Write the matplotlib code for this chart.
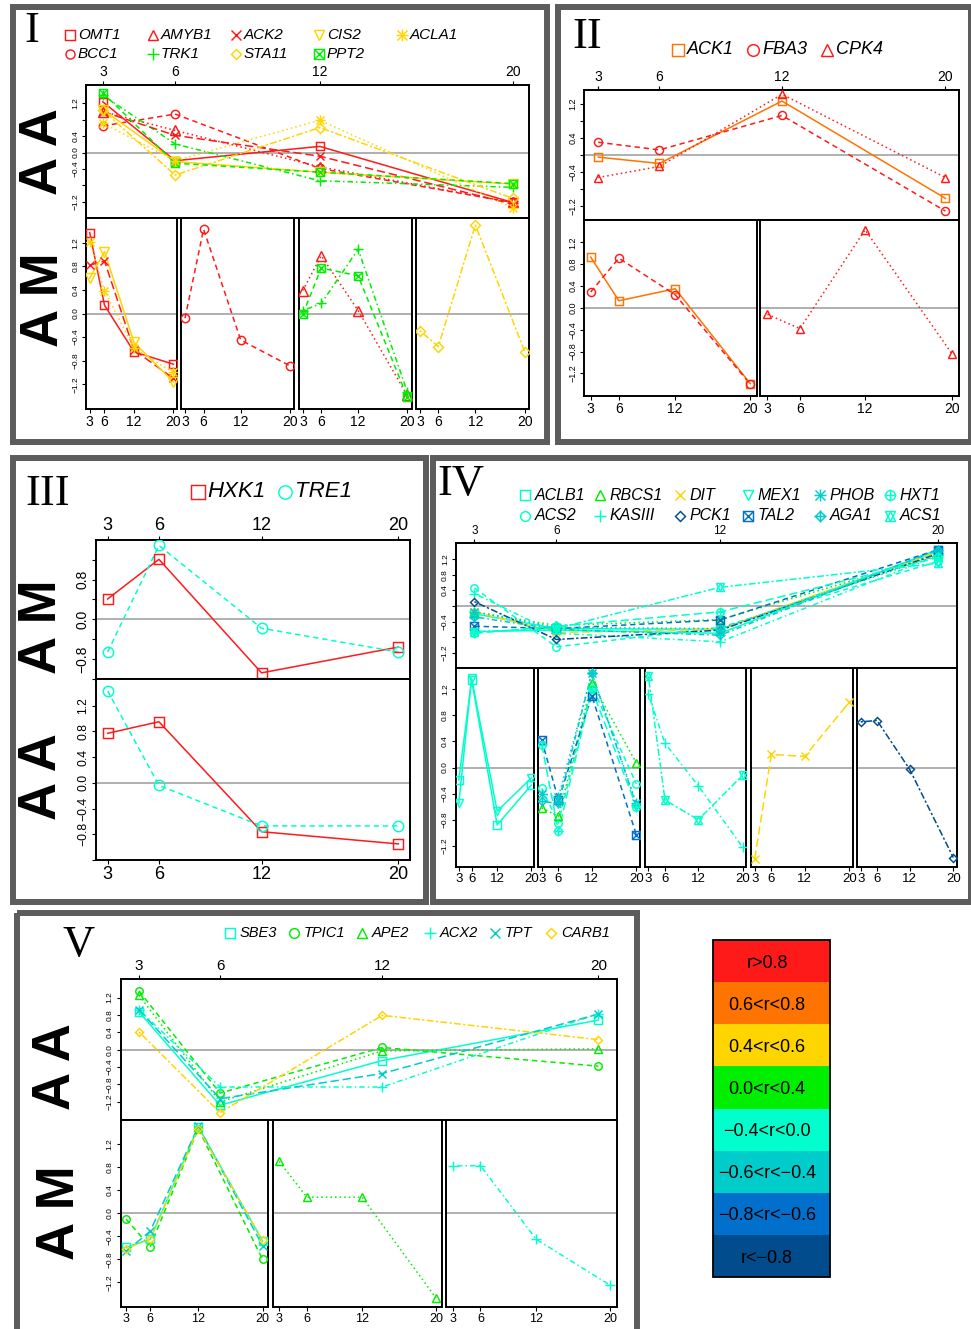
import matplotlib
matplotlib.use('Agg')
import matplotlib.pyplot as plt
from matplotlib.patches import Rectangle

plt.rcParams['font.family'] = ['Liberation Sans', 'DejaVu Sans']

# ---- data -------------------------------------------------------------
TIMES = [3, 6, 12, 20]
TIME_LABELS = ['3', '6', '12', '20']

CLASS_LABELS = ['r>0.8', '0.6<r<0.8', '0.4<r<0.6', '0.0<r<0.4',
                '\u22120.4<r<0.0', '\u22120.6<r<\u22120.4', '\u22120.8<r<\u22120.6', 'r<\u22120.8']
CLASS_COLORS = ['#ff1a1a', '#ff7300', '#ffd500', '#00ee00',
                '#00ffcc', '#00cccc', '#0070cc', '#004c8c']

# panel I
P1_GENES = ['OMT1', 'BCC1', 'AMYB1', 'TRK1', 'ACK2', 'STA11', 'CIS2', 'PPT2', 'ACLA1']
P1_CLASS = [0, 0, 0, 3, 0, 2, 2, 3, 2]
P1_AA = [[1.24, -0.20, 0.15, -1.22],
         [0.65, 0.94, -0.39, -1.22],
         [1.00, 0.54, -0.35, -1.22],
         [1.40, 0.21, -0.69, -0.85],
         [1.00, 0.42, -0.09, -1.26],
         [1.03, -0.55, 0.61, -1.12],
         [1.05, -0.22, -0.48, -0.77],
         [1.46, -0.26, -0.48, -0.76],
         [0.72, -0.20, 0.79, -1.35]]
P1_AM = [[1.37, 0.14, -0.65, -0.86],
         [-0.08, 1.43, -0.45, -0.89],
         [0.39, 0.98, 0.05, -1.39],
         [0.05, 0.17, 1.09, -1.33],
         [0.82, 0.89, -0.62, -1.10],
         [-0.29, -0.56, 1.50, -0.65],
         [0.60, 1.05, -0.49, -1.16],
         [-0.01, 0.77, 0.64, -1.42],
         [1.22, 0.39, -0.59, -1.00]]
P1_SUB = [0, 1, 2, 2, 0, 3, 0, 2, 0]

# panel II
P2_GENES = ['ACK1', 'FBA3', 'CPK4']
P2_CLASS = [1, 0, 0]
P2_AA = [[-0.05, -0.20, 1.27, -1.02],
         [0.30, 0.12, 0.93, -1.32],
         [-0.53, -0.27, 1.43, -0.53]]
P2_AM = [[0.93, 0.13, 0.35, -1.39],
         [0.29, 0.91, 0.24, -1.40],
         [-0.12, -0.38, 1.43, -0.84]]
P2_SUB = [0, 0, 1]

# panel III
P3_GENES = ['HXK1', 'TRE1']
P3_CLASS = [0, 4]
P3_AM = [[0.41, 1.21, -1.08, -0.56],
         [-0.66, 1.49, -0.18, -0.66]]
P3_AA = [[0.77, 0.95, -0.76, -0.95],
         [1.43, -0.04, -0.67, -0.67]]

# panel IV
P4_GENES = ['ACLB1', 'ACS2', 'RBCS1', 'KASIII', 'DIT', 'PCK1',
            'MEX1', 'TAL2', 'PHOB', 'AGA1', 'HXT1', 'ACS1']
P4_CLASS = [4, 4, 3, 4, 2, 7, 4, 6, 5, 5, 4, 4]
P4_AA = [[-0.20, -0.58, -0.60, 1.40],
         [0.46, -1.05, -0.55, 1.15],
         [-0.15, -0.50, -0.35, 1.30],
         [0.32, -0.70, -0.92, 1.30],
         [-0.15, -0.68, -0.60, 1.40],
         [0.11, -0.86, -0.62, 1.35],
         [-0.66, -0.62, -0.70, 1.45],
         [-0.52, -0.58, -0.36, 1.45],
         [-0.15, -0.55, -0.58, 1.30],
         [-0.28, -0.60, -0.75, 1.45],
         [-0.70, -0.52, -0.15, 1.25],
         [-0.66, -0.58, 0.48, 1.10]]
P4_AM = [[-0.19, 1.34, -0.88, -0.27],
         [-0.32, -0.85, 1.25, -0.25],
         [-0.62, -0.75, 1.30, 0.07],
         [1.12, 0.37, -0.28, -1.22],
         [-1.40, 0.20, 0.17, 1.00],
         [0.70, 0.72, -0.03, -1.38],
         [-0.55, 1.37, -0.67, -0.16],
         [0.42, -0.50, 1.10, -1.03],
         [-0.40, -0.45, 1.45, -0.55],
         [-0.52, -0.55, 1.45, -0.58],
         [0.35, -0.98, 1.20, -0.60],
         [1.40, -0.50, -0.80, -0.12]]
P4_SUB = [0, 1, 1, 2, 3, 4, 0, 1, 1, 1, 1, 2]

# panel V
P5_GENES = ['SBE3', 'TPIC1', 'APE2', 'ACX2', 'TPT', 'CARB1']
P5_CLASS = [4, 3, 3, 4, 5, 2]
P5_AA = [[0.87, -1.28, -0.25, 0.68],
         [1.35, -1.00, 0.05, -0.38],
         [1.25, -1.20, -0.03, 0.02],
         [0.92, -0.86, -0.86, 0.83],
         [0.92, -1.13, -0.55, 0.82],
         [0.41, -1.45, 0.79, 0.23]]
P5_AM = [[-0.59, -0.45, 1.50, -0.48],
         [-0.10, -0.58, 1.47, -0.80],
         [0.90, 0.28, 0.28, -1.47],
         [0.82, 0.83, -0.45, -1.25],
         [-0.66, -0.31, 1.51, -0.56],
         [-0.61, -0.45, 1.47, -0.47]]
P5_SUB = [0, 0, 1, 2, 0, 0]

# ---- styling helpers ----------------------------------------------------
W, H = 971, 1329
fig = plt.figure(figsize=(W / 100, H / 100), dpi=100)
fig.patch.set_facecolor('white')

canvas = fig.add_axes([0, 0, 1, 1])
canvas.set_xlim(0, W)
canvas.set_ylim(H, 0)
canvas.axis('off')

# R-like point symbols (pch 0..11) built from matplotlib markers
PCH = {0: ['s'], 1: ['o'], 2: ['^'], 3: ['+'], 4: ['x'], 5: ['D'], 6: ['v'],
       7: ['s', 'x'], 8: ['+', 'x'], 9: ['D', '+'], 10: ['o', '+'], 11: ['^', 'v']}
MSCALE = {'s': 1.0, 'o': 1.0, '^': 1.1, 'v': 1.1, '+': 1.3, 'x': 1.0, 'D': 0.8}
LTY = ['-', (0, (3.5, 2.5)), (0, (1, 2)), (0, (1, 2, 3.5, 2)),
       (0, (5.5, 2.5)), (0, (1.5, 1.5, 4.5, 1.5))]
YT = [-1.2, -0.8, -0.4, 0.0, 0.4, 0.8, 1.2]


def px_axes(x0, x1, y0, y1):
    return fig.add_axes([x0 / W, 1 - y1 / H, (x1 - x0) / W, (y1 - y0) / H])


def fmt(v):
    return f'{v:.1f}'.replace('-', '\u2212')


def marks(ax, xs, ys, pch, color, ms, clip=True):
    for m in PCH[pch]:
        ax.plot(xs, ys, ls='none', marker=m, ms=ms * MSCALE[m], mfc='none',
                mec=color, mew=1.05, clip_on=clip, zorder=4)


def plot_genes(ax, idxs, values, classes, ms):
    for i in idxs:
        c = CLASS_COLORS[classes[i]]
        ax.plot(TIMES, values[i], color=c, lw=1.1, ls=LTY[i % 6], zorder=3)
        marks(ax, TIMES, values[i], i, c, ms)


def setup(ax, ylim, shown, xpos, xfs, yfs=6):
    ax.set_xlim(2.32, 20.68)
    ax.set_ylim(*ylim)
    ax.axhline(0, color='#9a9a9a', lw=1.1, zorder=1)
    for s in ax.spines.values():
        s.set_linewidth(1.4)
    ax.set_xticks(TIMES)
    ax.set_xticklabels(TIME_LABELS, fontsize=xfs)
    if xpos == 'top':
        ax.tick_params(axis='x', top=True, bottom=False, labeltop=True,
                       labelbottom=False, length=3, width=0.8, pad=1.5)
    else:
        ax.tick_params(axis='x', top=False, bottom=True, length=3, width=0.8, pad=1.5)
    if shown is None:
        ax.set_yticks([])
    else:
        ax.set_yticks(YT)
        ax.set_yticklabels([fmt(v) if round(v, 1) in shown else '' for v in YT],
                           fontsize=yfs)
        ax.tick_params(axis='y', length=3, width=0.8, pad=2)
        for lab in ax.get_yticklabels():
            lab.set_rotation(90)
            lab.set_va('center')


def legend_row(genes, classes, xs, ys, fs, ms, gap):
    for i, g in enumerate(genes):
        c = CLASS_COLORS[classes[i]]
        marks(canvas, [xs[i]], [ys[i]], i, c, ms, clip=False)
        canvas.text(xs[i] + gap, ys[i], g, fontsize=fs, style='italic',
                    ha='left', va='center')


def frame(x0, y0, x1, y1):
    canvas.add_patch(Rectangle((x0 + 3, y0 + 3), x1 - x0 - 6, y1 - y0 - 6,
                               fill=False, ec='#5c5c5c', lw=4.3))


def roman(x, y, s):
    canvas.text(x, y, s, family='Liberation Serif', fontsize=32,
                ha='center', va='center')


def big(x, y, s):
    canvas.text(x, y, s, rotation=90, fontsize=38, fontweight='bold',
                ha='center', va='center')


ALL = set(YT)

# ---- panel I ------------------------------------------------------------
frame(10, 4, 550, 445)
roman(31.5, 31, 'I')
big(43, 152, 'A A')
big(44, 300, 'A M')
legend_row(P1_GENES, P1_CLASS,
           [70 + 83 * (i // 2) for i in range(len(P1_GENES))],
           [35 + 18.5 * (i % 2) for i in range(len(P1_GENES))], 11, 6.5, 8)
ax = px_axes(86.4, 529, 85, 218)
setup(ax, (-1.6, 1.65), {1.2, 0.4, 0.0, -0.4, -1.2}, 'top', 10)
plot_genes(ax, range(len(P1_GENES)), P1_AA, P1_CLASS, 6)
for k, (x0, x1) in enumerate([(86.4, 176.7), (180.8, 294.4), (298.6, 411.5), (415.6, 529)]):
    ax = px_axes(x0, x1, 218, 409)
    setup(ax, (-1.62, 1.62), ALL if k == 0 else None, 'bottom', 10)
    plot_genes(ax, [i for i in range(len(P1_GENES)) if P1_SUB[i] == k], P1_AM, P1_CLASS, 6)

# ---- panel II -----------------------------------------------------------
frame(555, 4, 974, 445)
roman(587, 37, 'II')
legend_row(P2_GENES, P2_CLASS, [678, 753, 827], [50, 50, 50], 13, 8.4, 9)
ax = px_axes(584.3, 959.3, 90, 220)
setup(ax, (-1.53, 1.53), {1.2, 0.4, -0.4, -1.2}, 'top', 10, 6.5)
plot_genes(ax, range(len(P2_GENES)), P2_AA, P2_CLASS, 5.8)
for k, (x0, x1) in enumerate([(584.3, 756.7), (760, 959.3)]):
    ax = px_axes(x0, x1, 220, 395.7)
    setup(ax, (-1.61, 1.61), ALL if k == 0 else None, 'bottom', 10, 6.5)
    plot_genes(ax, [i for i in range(len(P2_GENES)) if P2_SUB[i] == k], P2_AM, P2_CLASS, 5.8)

# ---- panel III ----------------------------------------------------------
frame(10, 455, 429, 905)
roman(47.5, 494, 'III')
big(42.5, 627, 'A M')
big(42.5, 777, 'A A')
legend_row(P3_GENES, P3_CLASS, [197.7, 285], [491.7, 491.7], 16, 9.6, 10)
ax = px_axes(96, 410, 540, 679.3)
setup(ax, (-1.21, 1.6), {0.8, 0.0, -0.8}, 'top', 13, 10)
plot_genes(ax, range(len(P3_GENES)), P3_AM, P3_CLASS, 7.5)
ax = px_axes(96, 410, 679.3, 860)
setup(ax, (-1.19, 1.61), {-0.8, -0.4, 0.0, 0.4, 0.8, 1.2}, 'bottom', 13, 8.8)
plot_genes(ax, range(len(P3_GENES)), P3_AA, P3_CLASS, 7.5)

# ---- panel IV -----------------------------------------------------------
frame(430, 455, 974, 905)
roman(461, 484, 'IV')
legend_row(P4_GENES, P4_CLASS,
           [[525, 600, 680, 748, 820, 890][i // 2] for i in range(len(P4_GENES))],
           [495 + 20.5 * (i % 2) for i in range(len(P4_GENES))], 11.5, 7, 10)
ax = px_axes(455.9, 957, 543.3, 668.3)
setup(ax, (-1.6, 1.61), {1.2, 0.8, 0.4, -0.4, -1.2}, 'top', 8.5)
plot_genes(ax, range(len(P4_GENES)), P4_AA, P4_CLASS, 5.4)
for k, (x0, x1) in enumerate([(455.9, 534.2), (538, 640.1), (644.6, 746.4),
                              (750.9, 853), (857, 957)]):
    ax = px_axes(x0, x1, 668.3, 866.7)
    setup(ax, (-1.52, 1.52), ALL if k == 0 else None, 'bottom', 9.5)
    plot_genes(ax, [i for i in range(len(P4_GENES)) if P4_SUB[i] == k], P4_AM, P4_CLASS, 5.4)

# ---- panel V ------------------------------------------------------------
frame(14, 910, 640, 1335)
roman(79, 945, 'V')
big(56, 1067, 'A A')
big(60, 1213, 'A M')
legend_row(P5_GENES, P5_CLASS, [230, 294, 362, 429.5, 495, 551], [933] * 6, 10.5, 7, 10)
ax = px_axes(120.6, 616.8, 979.3, 1120)
setup(ax, (-1.62, 1.62), ALL, 'top', 11)
plot_genes(ax, range(len(P5_GENES)), P5_AA, P5_CLASS, 5.4)
for k, (x0, x1) in enumerate([(120.6, 268), (272.9, 442.3), (446.2, 616.8)]):
    ax = px_axes(x0, x1, 1120, 1306.7)
    setup(ax, (-1.62, 1.62), ALL if k == 0 else None, 'bottom', 9)
    plot_genes(ax, [i for i in range(len(P5_GENES)) if P5_SUB[i] == k], P5_AM, P5_CLASS, 5.4)

# ---- colour key ---------------------------------------------------------
bh = (1277 - 940) / len(CLASS_LABELS)
for k, lab in enumerate(CLASS_LABELS):
    canvas.add_patch(Rectangle((713, 940 + k * bh), 117, bh, fc=CLASS_COLORS[k], ec='none'))
    canvas.text(767, 940 + (k + 0.55) * bh, lab, fontsize=13, ha='center', va='center')
canvas.add_patch(Rectangle((713, 940), 117, 1277 - 940, fill=False, ec='black', lw=1.3))

fig.savefig('out.png', dpi=100, facecolor='white')
